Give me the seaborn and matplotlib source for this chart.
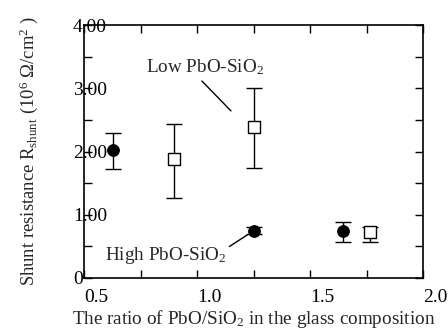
import seaborn as sns
import matplotlib.pyplot as plt
from matplotlib.ticker import MultipleLocator, FixedLocator
import pandas as pd

# High PbO-SiO2 (filled circles)
high_x = [0.63, 1.25, 1.645]
high_y = [2.03, 0.75, 0.75]
high_err_lo = [0.30, 0.06, 0.18]
high_err_hi = [0.26, 0.05, 0.13]

# Low PbO-SiO2 (open squares)
low_x = [0.90, 1.25, 1.765]
low_y = [1.88, 2.39, 0.72]
low_err_lo = [0.61, 0.65, 0.15]
low_err_hi = [0.56, 0.62, 0.09]

xticks = [0.5, 1.0, 1.5, 2.0]
xticklabels = ["0.5", "1.0", "1.5", "2.0"]
yticks = [0, 1, 2, 3, 4]
yticklabels = ["0", "1.00", "2.00", "3.00", "4.00"]

high = pd.DataFrame({"x": high_x, "y": high_y})
low = pd.DataFrame({"x": low_x, "y": low_y})

sns.set_style("ticks")
plt.rcParams['font.family'] = ['Liberation Serif', 'DejaVu Serif']
plt.rcParams['mathtext.fontset'] = 'custom'
plt.rcParams['mathtext.rm'] = 'Liberation Serif'
plt.rcParams['mathtext.it'] = 'Liberation Serif:italic'

fig = plt.figure(figsize=(4.48, 3.30), dpi=100)
ax = fig.add_axes([84 / 448, 1 - 278 / 330, 339 / 448, 253 / 330])

ax.errorbar(high_x, high_y, yerr=[high_err_lo, high_err_hi], fmt='none',
            ecolor='black', elinewidth=1, capsize=5.5, capthick=1, zorder=2)
ax.errorbar(low_x, low_y, yerr=[low_err_lo, low_err_hi], fmt='none',
            ecolor='black', elinewidth=1, capsize=5.5, capthick=1, zorder=2)

sns.scatterplot(data=high, x="x", y="y", marker='o', s=70, color='black',
                edgecolor='black', linewidth=0.8, ax=ax, zorder=3)
sns.scatterplot(data=low, x="x", y="y", marker='s', s=85, color='white',
                edgecolor='black', linewidth=1, ax=ax, zorder=3)

ax.set_xlim(0.5, 2.0)
ax.set_ylim(0, 4.0)
ax.xaxis.set_major_locator(FixedLocator(xticks))
ax.xaxis.set_minor_locator(MultipleLocator(0.25))
ax.yaxis.set_major_locator(FixedLocator(yticks))
ax.yaxis.set_minor_locator(MultipleLocator(0.5))
ax.set_xticklabels(xticklabels, ha='left')
ax.set_yticklabels(yticklabels, ha='left')

ax.tick_params(which='both', direction='in', top=True, right=True,
               length=6, width=1, colors='black', labelsize=14)
ax.tick_params(axis='y', which='major', pad=8)
ax.tick_params(axis='x', which='major', pad=8)
for s in ax.spines.values():
    s.set_linewidth(1.2)
    s.set_color('black')

ax.set_xlabel("The ratio of PbO/SiO$_2$ in the glass composition",
              fontsize=13.8, labelpad=1)
ax.set_ylabel("Shunt resistance R$_{\\rm shunt}$ (10$^6$ Ω/cm$^2$ )",
              fontsize=13.4, labelpad=24)

ax.text(0.774, 3.34, "Low PbO-SiO$_2$", fontsize=13.8, va='center', ha='left')
ax.annotate("", xy=(1.159, 2.61), xytext=(1.013, 3.146),
            arrowprops=dict(arrowstyle='-', color='black', lw=1))
ax.text(0.593, 0.35, "High PbO-SiO$_2$", fontsize=13.8, va='center', ha='left')
ax.annotate("", xy=(1.235, 0.71), xytext=(1.133, 0.474),
            arrowprops=dict(arrowstyle='-', color='black', lw=1))

plt.savefig("out.png", dpi=100)
